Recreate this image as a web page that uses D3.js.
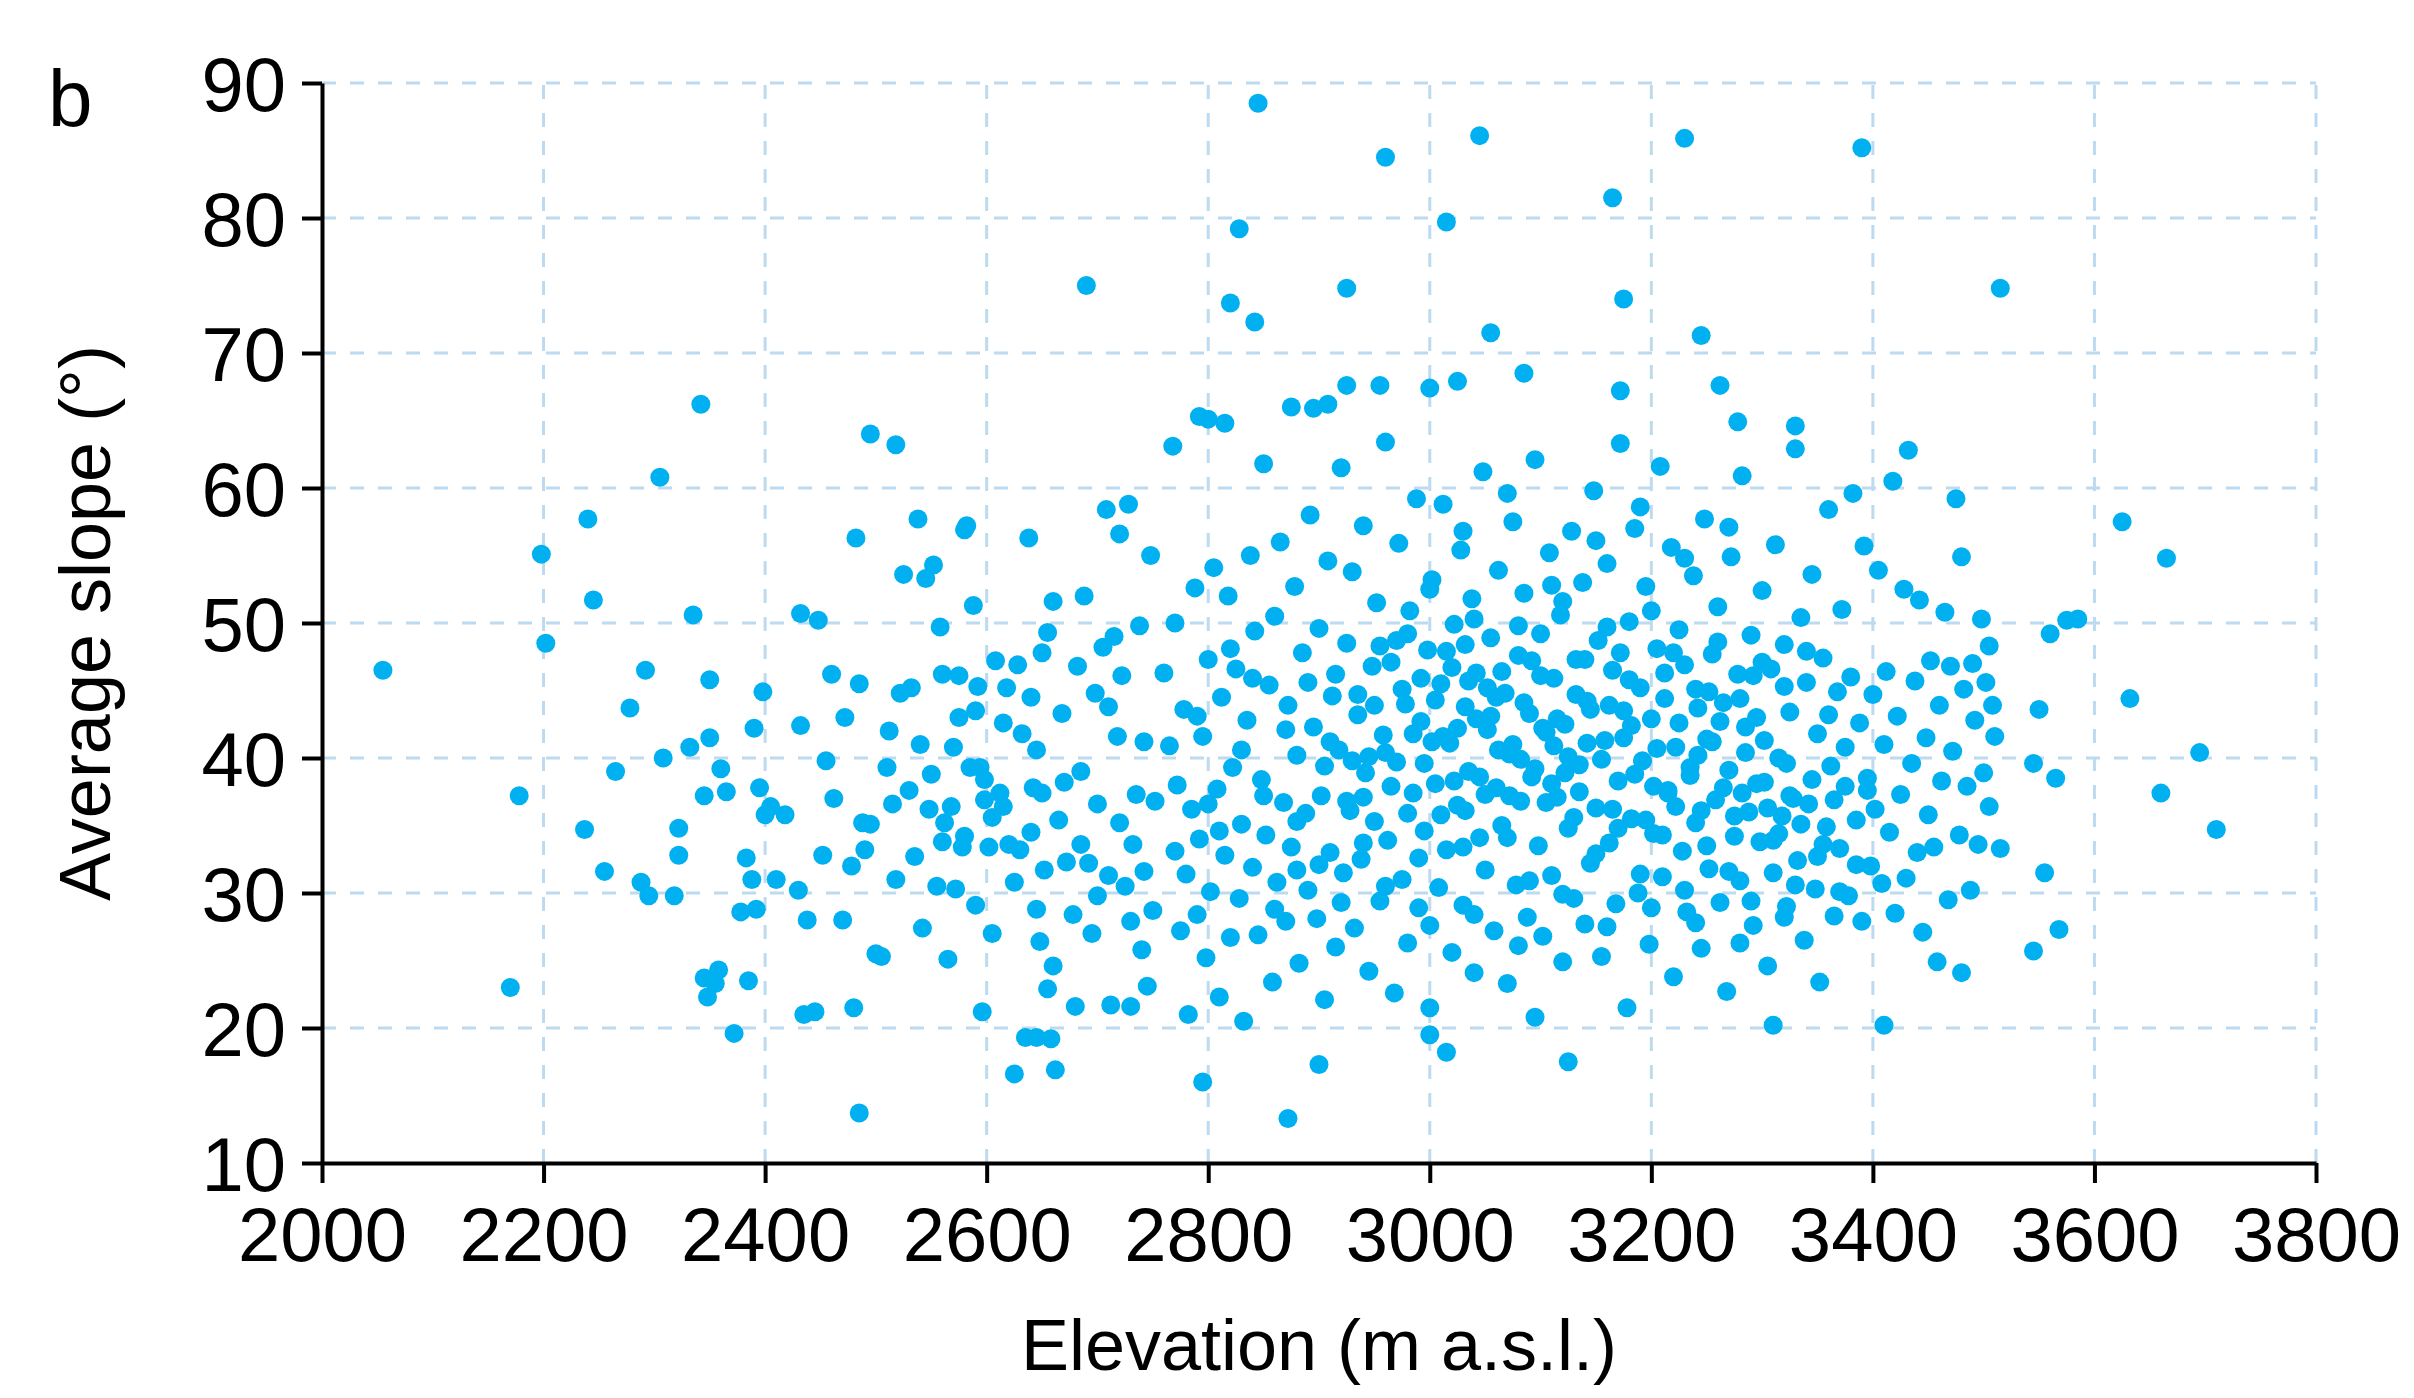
<!DOCTYPE html>
<html>
<head>
<meta charset="utf-8">
<script src="https://cdn.jsdelivr.net/npm/d3@7"></script>
<style>
  body { margin: 0; background: #fff; }
  svg { display: block; font-family: 'Liberation Sans', Arial, sans-serif; }
</style>
</head>
<body>
<div id="chart"></div>
<script>
// elevation (m a.s.l.), average slope (deg)
const sparsePoints = [
  [2055,46.5],[2170,23],[2178,37.2],[2198,55.1],[2202,48.5],[2237,34.7],[2240,57.7],[2245,51.7],[2255,31.6],[2265,39],
  [2278,43.7],[2288,30.8],[2292,46.5],[2295,29.8],[2305,60.8],[2308,40],[2318,29.8],[2322,32.8],[2322,34.8],[2332,40.8],
  [2335,50.6],[2342,66.2],[2345,23.7],[2348,22.3],[2350,45.8],[2350,41.5],[2345,37.2],[2355,23.3],[2358,24.3],[2360,39.2],
  [2365,37.5],[2372,19.6],[2378,28.6],[2383,32.6],[2385,23.5],[2388,31],[2390,42.2],[2392,28.8],[2395,37.8],[2398,44.9],
  [2400,35.8],[2405,36.4],[2410,31],[2418,35.8],[2430,30.2],[2432,42.4],[2432,50.7],[2435,21],[2438,28],[2445,21.2],
  [2448,50.2],[2452,32.8],[2455,39.8],[2460,46.2],[2462,37],[2470,28],[2472,43],[2478,32],[2480,21.5],[2482,56.3],
  [2485,13.7],[2485,45.5],[2488,35.2],[2490,33.2],[2495,35.1],[2495,64],[2500,25.5],[2505,25.3],[2510,39.3],[2512,42],
  [2515,36.6],[2518,31],[2518,63.2],[2522,44.8],[2525,53.6],[2530,37.6],[2535,32.7],[2538,57.7],[2540,41],[2542,27.4],
  [2545,53.3],[2550,38.8],[2552,54.3],[2555,30.5],[2558,49.7],[2560,46.2],[2562,35.2],[2565,25.1],[2568,36.4],[2570,40.8],
  [2572,30.3],[2575,46.1],[2578,33.4],[2580,56.9],[2582,57.2],[2585,39.3],[2588,51.3],[2590,29.1],[2592,45.3],[2594,39.3],
  [2596,21.2],[2598,36.9],[2602,33.4],[2605,27],[2608,47.2],[2612,37.4],[2615,36.4],[2618,45.2],[2620,33.6],[2625,16.6],
  [2628,46.9],[2630,33.2],[2632,41.8],[2635,19.3],[2638,56.3],[2640,44.5],[2642,37.8],[2645,28.8],[2648,26.4],[2650,47.8],
  [2652,31.7],[2655,49.3],[2658,19.2],[2660,51.6],[2662,16.9],[2665,35.4],[2668,43.3],[2672,32.3],[2678,28.4],[2680,21.6],
  [2682,46.8],[2685,39],[2688,52],[2690,75],[2692,32.2],[2695,27],[2698,44.8],[2700,36.6],[2705,48.2],[2708,58.4],
  [2710,31.3],[2712,21.7],[2715,49],[2718,41.6],[2720,56.6],[2722,46.1],[2725,30.5],[2728,58.8],[2730,21.6],[2732,33.6],
  [2735,37.3],[2738,49.8],[2740,25.8],[2742,41.2],[2745,23.1],[2748,55],[2750,28.7],[2752,36.8],[2640,34.5],[2605,35.6],
  [2590,43.5],[2625,30.8],[2660,24.6],[2615,42.6],[2580,34.2],[2700,29.8],[2670,38.2],[2710,43.8],[2655,22.9],[2730,27.9],
  [2548,36.2],[2532,45.2],[2575,43],[2598,38.4],[2645,40.6],[2685,33.6],[2720,35.2],[2742,31.6],[2650,37.4],[2560,33.8]
];
const outlierPoints = [
  [2845,88.5],[2960,84.5],[3045,86.1],[3230,85.9],[3390,85.2],[3165,81.5],[3015,79.7],[2828,79.2],[2925,74.8],[2820,73.7],
  [3175,74],[3515,74.8],[2842,72.3],[3245,71.3],[3055,71.5],[3085,68.5],[3000,67.4],[3025,67.9],[2925,67.6],[2955,67.6],
  [3262,67.6],[3172,67.2],[2875,66],[2908,66.2],[2895,65.9],[2792,65.3],[2800,65.1],[2768,63.1],[2815,64.8],[3278,64.9],
  [3330,64.6],[3625,57.5],[3665,54.8],[3632,44.4],[3695,40.4],[3710,34.7],[3660,37.4],[3585,50.3],[3575,50.2],[3560,49.2],
  [3565,38.5],[3568,27.3],[3545,25.7],[3550,43.6],[3555,31.5],[3545,39.6],[3515,33.3],[3510,41.6],[3505,48.3],[3480,24.1],
  [3410,20.2],[3310,20.2],[3125,17.5],[3015,18.2],[2872,13.3],[2795,16],[2900,17.3],[3000,19.5],[2645,19.3],[3095,20.8]
];
const densePoints = [
  [2760,46.3],[2765,40.9],[2770,50],[2772,38],[2775,27.2],[2778,43.6],[2780,31.4],[2782,21],[2785,36.2],[2788,52.6],
  [2790,28.4],[2792,34],[2795,41.6],[2798,25.2],[2800,47.3],[2802,30.1],[2805,54.1],[2808,37.7],[2810,22.3],[2812,44.5],
  [2815,32.8],[2818,52],[2820,26.7],[2822,39.3],[2825,46.6],[2828,29.6],[2830,35.1],[2832,20.5],[2835,42.8],[2838,55],
  [2840,31.9],[2842,49.4],[2845,26.9],[2848,38.4],[2850,61.8],[2852,34.3],[2855,45.4],[2858,23.4],[2860,50.5],[2862,30.8],
  [2865,56],[2868,36.7],[2870,27.9],[2872,43.9],[2875,33.4],[2878,52.7],[2880,40.2],[2882,24.8],[2885,47.8],[2888,35.9],
  [2890,30.2],[2892,58],[2895,42.3],[2898,28.1],[2900,49.6],[2902,37.2],[2905,22.1],[2908,54.6],[2910,33],[2912,44.6],
  [2915,26],[2918,40.6],[2920,61.5],[2922,31.5],[2925,48.5],[2928,36.1],[2930,53.8],[2932,27.4],[2935,43.2],[2938,32.5],
  [2940,57.2],[2942,38.9],[2945,24.2],[2948,46.8],[2950,35.3],[2952,51.5],[2955,29.4],[2958,41.7],[2960,63.4],[2962,33.9],
  [2965,47.1],[2968,22.6],[2970,39.7],[2972,55.9],[2975,31],[2978,44],[2980,26.3],[2982,50.9],[2985,37.4],[2988,59.2],
  [2990,28.9],[2992,42.7],[2995,34.6],[2998,48],[3000,21.5],[3002,53.2],[3005,38.1],[3008,30.4],[3010,45.5],[3012,58.8],
  [3015,33.2],[3018,41.1],[3020,25.6],[3022,49.9],[3025,36.5],[3028,55.4],[3030,29.1],[3032,43.8],[3035,39],[3038,51.8],
  [3040,24.1],[3042,46.3],[3045,34.1],[3048,61.2],[3050,31.7],[3052,42.1],[3055,48.9],[3058,27.2],[3060,37.8],[3062,53.9],
  [3065,35],[3068,44.8],[3070,23.3],[3072,40.3],[3075,57.5],[3078,30.6],[3080,47.6],[3082,36.8],[3085,52.2],[3088,28.2],
  [3090,43.3],[3092,38.6],[3095,62.1],[3098,33.5],[3100,49.2],[3102,26.8],[3105,41.9],[3108,55.2],[3110,31.3],[3112,45.9],
  [3115,37.1],[3118,50.6],[3120,24.9],[3122,42.5],[3125,34.8],[3128,56.8],[3130,29.6],[3132,47.3],[3135,39.5],[3138,53],
  [3140,27.7],[3142,44.2],[3145,32.2],[3148,59.8],[3150,36.3],[3152,48.7],[3155,25.3],[3158,41.3],[3160,54.4],[3162,33.7],
  [3165,46.5],[3168,29.2],[3170,38.3],[3172,63.3],[3175,43.5],[3178,21.5],[3180,50.1],[3182,35.5],[3185,57],[3188,30],
  [3190,45.2],[3192,39.8],[3195,52.7],[3198,26.2],[3200,42.9],[3202,34.4],[3205,48.1],[3208,61.6],[3210,31.2],[3212,44.4],
  [3215,37.6],[3218,55.6],[3220,23.8],[3222,40.8],[3225,49.5],[3228,33.1],[3230,46.9],[3232,28.6],[3235,38.7],[3238,53.5],
  [3240,35.2],[3242,43.7],[3245,25.9],[3248,57.7],[3250,41.4],[3252,31.8],[3255,47.7],[3258,36.9],[3260,51.2],[3262,29.3],
  [3265,44.1],[3268,22.7],[3270,39.1],[3272,54.9],[3275,34.2],[3278,46.2],[3280,30.9],[3282,60.9],[3285,42.3],[3288,36],
  [3290,49.1],[3292,27.6],[3295,43],[3298,33.8],[3300,52.4],[3302,38.2],[3305,24.6],[3308,46.6],[3310,31.5],[3312,55.8],
  [3315,40],[3318,35.7],[3320,48.4],[3322,29],[3325,43.4],[3328,37],[3330,62.9],[3332,32.4],[3335,50.4],[3338,26.5],
  [3340,45.6],[3342,36.6],[3345,53.6],[3348,30.3],[3350,41.8],[3352,23.4],[3355,47.4],[3358,34.9],[3360,58.4],[3362,39.4],
  [3365,28.3],[3368,44.9],[3370,33.3],[3372,51],[3375,37.9],[3378,29.8],[3380,46],[3382,59.6],[3385,35.4],[3388,42.6],
  [3390,27.9],[3392,55.7],[3395,38.5],[3398,32],[3400,44.7],[3402,36.2],[3405,53.9],[3408,30.7],[3410,41],[3412,46.4],
  [3415,34.5],[3418,60.5],[3420,28.5],[3422,43.1],[3425,37.3],[3428,52.5],[3430,31.1],[3432,62.8],[3435,39.6],[3438,45.7],
  [3440,33],[3442,51.7],[3445,27.1],[3448,41.5],[3450,35.8],[3452,47.2],[3455,33.4],[3458,24.9],[3460,43.9],[3462,38.3],
  [3465,50.8],[3468,29.5],[3470,46.8],[3472,40.5],[3475,59.2],[3478,34.3],[3480,54.9],[3482,45.1],[3485,37.9],[3488,30.2],
  [3490,47],[3492,42.8],[3495,33.6],[3498,50.3],[3500,38.9],[3502,45.6],[3505,36.4],[3508,43.9]
];
const coreExtra = [
  [2905,39.4],[2915,46.2],[2925,36.8],[2935,44.7],[2945,40.1],[2955,48.3],[2965,37.9],[2975,45.1],[2985,41.8],[2995,39.6],
  [3005,44.3],[3015,47.9],[3025,42.2],[3035,45.7],[3045,38.6],[3055,43.1],[3065,46.4],[3075,41],[3085,44.1],[3095,39.2],
  [3105,36.7],[3115,42.9],[3125,40.1],[3135,37.5],[3145,43.6],[3155,39.9],[3165,36.2],[3175,41.5],[3185,38.8],[3195,35.4],
  [3205,40.7],[3215,37.4],[3225,42.6],[3235,39.3],[3245,36.1],[3255,41.2],[3265,37.8],[3275,35.7],[3285,40.4],[3295,38.1],
  [3305,36.3],[3315,34.4],[3325,37.2],[3335,35.1],[3345,38.4],[3355,33.6],[3365,36.9],[3375,40.8],[3385,32.1],[3395,37.6],
  [2990,32.6],[3010,35.8],[3030,33.4],[3050,37.3],[3070,34.1],[3090,30.9],[3110,38.1],[3130,35.6],[3150,32.9],[3170,34.8],
  [3190,31.4],[3210,34.3],[3230,30.2],[3250,33.5],[3270,31.6],[3290,29.4],[3310,33.9],[3330,30.6],[3350,32.7],[3370,30.1],
  [2980,49.2],[3000,52.5],[3020,46.7],[3040,50.3],[3060,44.5],[3080,49.8],[3100,46.1],[3120,51.6],[3140,47.3],[3160,49.7],
  [3180,45.8],[3200,50.9],[3220,47.8],[3240,45.1],[3260,48.6],[3280,44.4],[3300,47.1],[3320,45.3],[3340,47.9],[3360,43.2],
  [2870,42.1],[2880,35.3],[2890,45.6],[2900,32.1],[2910,41.2],[2920,29.3],[2930,39.8],[2940,33.7],[2950,43.9],[2960,30.5],
  [2970,48.7],[2980,35.9],[2960,40.4],[2940,37.1],[3000,27.6],[3040,28.4],[3080,26.1],[3120,29.9],[3160,27.5],[3200,28.9],
  [3240,27.8],[3280,26.3],[3320,28.2],[3030,56.8],[3070,59.6],[3110,52.8],[3150,56.1],[3190,58.6],[3230,54.8],[3270,57.1],
  [2830,40.6],[2810,34.6],[2850,37.2],[2790,43.1],[2860,28.8],[2800,36.6],[2880,31.7],[2840,45.9],[2820,48.1],[2770,33.1],
  [3012,41.6],[3022,38.3],[3032,36.1],[3042,42.9],[3062,40.6],[3072,37.2],[3082,39.9],[3102,42.2],[3112,40.9],[3122,38.9],
  [3142,41.1],[3162,43.9],[3182,42.4],[3202,37.9],[3222,36.4],[3242,40.2],[3262,42.7],[3282,37.4],[3302,41.3],[3322,39.6],
  [2992,45.9],[3002,41.2],[3032,48.4],[3052,45.2],[3092,47.2],[3132,44.7],[3172,47.8],[3212,46.3],[3252,44.9],[3292,46.1]
];
const allPoints = sparsePoints.concat(outlierPoints, densePoints, coreExtra);

const xTicks = [2000, 2200, 2400, 2600, 2800, 3000, 3200, 3400, 3600, 3800];
const yTicks = [10, 20, 30, 40, 50, 60, 70, 80, 90];

const W = 2414, H = 1398;
const margin = { left: 322, right: 98, top: 83, bottom: 235 };

const svg = d3.select('#chart').append('svg')
  .attr('width', W).attr('height', H);

const x = d3.scaleLinear().domain([2000, 3800]).range([margin.left, W - margin.right]);
const y = d3.scaleLinear().domain([10, 90]).range([H - margin.bottom, margin.top]);

// dashed grid
const grid = svg.append('g').attr('stroke', '#bcdaf0').attr('stroke-width', 3).attr('stroke-dasharray', '14,14');
grid.selectAll('.vg').data(xTicks.slice(1)).enter().append('line')
  .attr('x1', d => x(d)).attr('x2', d => x(d))
  .attr('y1', y(10)).attr('y2', y(90));
grid.selectAll('.hg').data(yTicks.slice(1)).enter().append('line')
  .attr('x1', x(2000)).attr('x2', x(3800))
  .attr('y1', d => y(d)).attr('y2', d => y(d));

// points
svg.append('g').selectAll('circle').data(allPoints).enter().append('circle')
  .attr('cx', d => x(d[0])).attr('cy', d => y(d[1]))
  .attr('r', 9.5).attr('fill', '#00b0f0');

// axes
const xAxis = svg.append('g').attr('transform', `translate(0,${y(10)})`)
  .call(d3.axisBottom(x).tickValues(xTicks).tickFormat(d3.format('d')).tickSize(20).tickSizeOuter(0).tickPadding(16));
const yAxis = svg.append('g').attr('transform', `translate(${x(2000)},0)`)
  .call(d3.axisLeft(y).tickValues(yTicks).tickSize(20).tickSizeOuter(0).tickPadding(16));
[xAxis, yAxis].forEach(a => {
  a.selectAll('path, line').attr('stroke', '#000').attr('stroke-width', 4);
  a.selectAll('text').attr('fill', '#000').attr('font-size', 76)
    .attr('font-family', "'Liberation Sans', Arial, sans-serif");
});
xAxis.selectAll('text').attr('dy', '0.82em');
yAxis.selectAll('text').attr('dy', '0.36em');

// titles
svg.append('text').attr('x', x(2900)).attr('y', 1370)
  .attr('text-anchor', 'middle').attr('font-size', 72).text('Elevation (m a.s.l.)');
svg.append('text').attr('transform', `translate(110,${y(50)}) rotate(-90)`)
  .attr('text-anchor', 'middle').attr('font-size', 72).text('Average slope (°)');
svg.append('text').attr('x', 48).attr('y', 126).attr('font-size', 80).text('b');
</script>
</body>
</html>
